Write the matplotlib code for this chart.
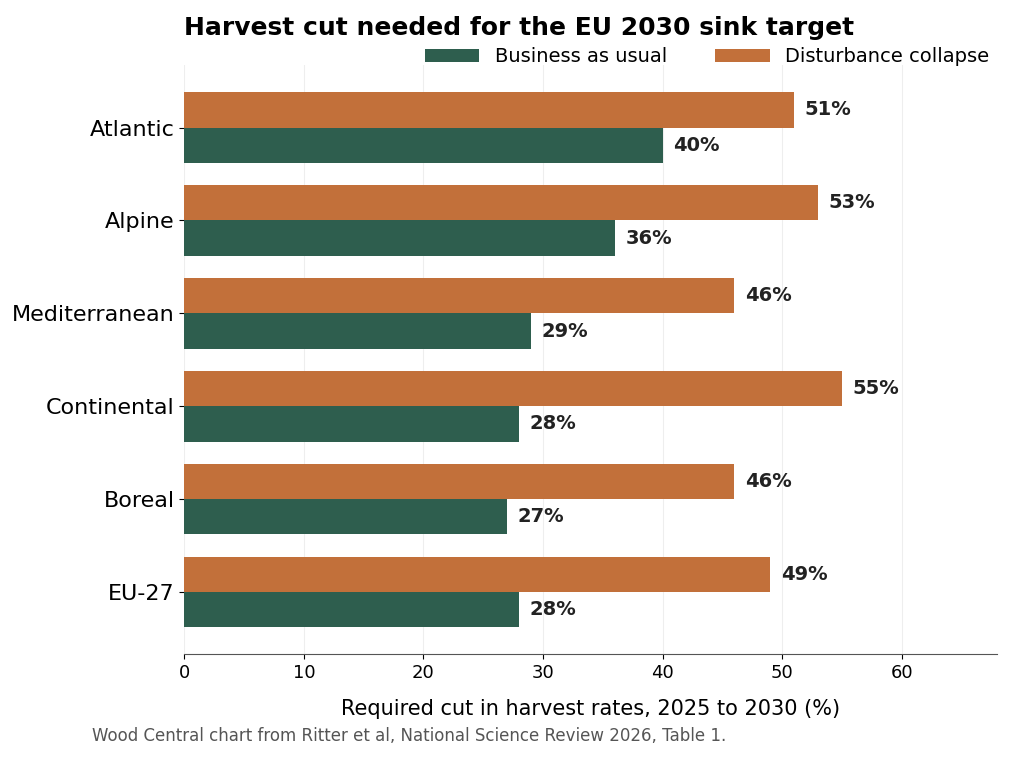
import numpy as np
import matplotlib.pyplot as plt

regions = ["Atlantic", "Alpine", "Mediterranean", "Continental", "Boreal", "EU-27"]
bau = [40, 36, 29, 28, 27, 28]
collapse = [51, 53, 46, 55, 46, 49]

green = "#2e5e4e"
orange = "#c2703a"

fig = plt.figure(figsize=(10.24, 7.68), dpi=100)
ax = fig.add_axes([0.18, 0.148, 0.794, 0.767])

y = np.arange(len(regions))[::-1]
h = 0.38
b1 = ax.barh(y - h / 2, bau, height=h, color=green, label="Business as usual")
b2 = ax.barh(y + h / 2, collapse, height=h, color=orange, label="Disturbance collapse")
for bars in (b1, b2):
    for bar in bars:
        w = bar.get_width()
        ax.text(w + 0.9, bar.get_y() + bar.get_height() / 2, f"{w:.0f}%",
                va="center", ha="left", fontsize=14, fontweight="bold", color="#222222")

ax.set_yticks(y)
ax.set_yticklabels(regions, fontsize=16)
ax.set_xlim(0, 68)
ax.set_ylim(-0.67, len(regions) - 1 + 0.67)
ax.set_xticks(range(0, 70, 10))
ax.tick_params(axis="x", labelsize=13)
ax.xaxis.grid(True, color="#eeeeee", linewidth=0.8)
ax.set_axisbelow(True)
for s in ("top", "right", "left"):
    ax.spines[s].set_visible(False)
ax.spines["bottom"].set_color("#555555")
ax.set_xlabel("Required cut in harvest rates, 2025 to 2030 (%)", fontsize=15, labelpad=12)

fig.text(0.18, 0.963, "Harvest cut needed for the EU 2030 sink target",
         fontsize=18, fontweight="bold", va="center")
ax.legend(loc="lower right", bbox_to_anchor=(1.0, 0.985), ncol=2, frameon=False,
          fontsize=14, handlelength=2.8, columnspacing=2.5, borderaxespad=0)
fig.text(0.09, 0.042, "Wood Central chart from Ritter et al, National Science Review 2026, Table 1.",
         fontsize=12, color="#555555", va="center")

fig.savefig("out.png", dpi=100)
